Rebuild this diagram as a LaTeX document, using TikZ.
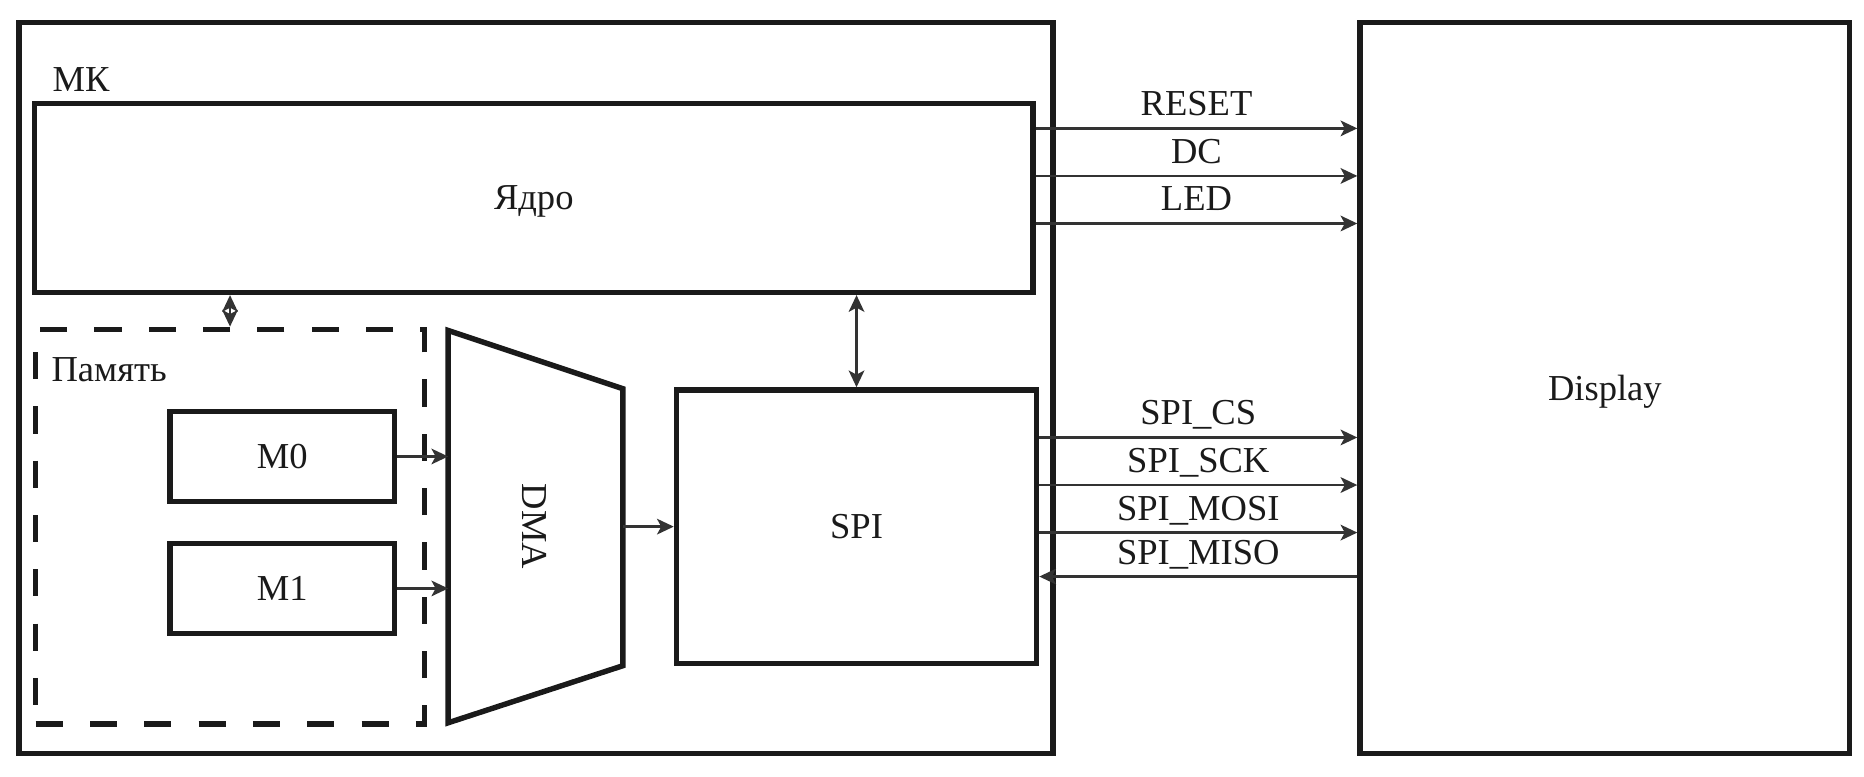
\documentclass[tikz,border=0pt]{standalone}
\usepackage{fontspec}
\setmainfont{Liberation Serif}
\usetikzlibrary{arrows.meta,positioning}
\definecolor{ink}{HTML}{1A1A1A}
\definecolor{wire}{HTML}{333333}

\begin{document}
\begin{tikzpicture}[x=0.02cm,y=0.02cm,>={Stealth[length=8pt,width=7.5pt,inset=2pt]},
  every node/.style={font=\fontsize{17.5}{20}\selectfont,text=ink},
  box/.style={draw=ink,line width=2.6pt,inner sep=0pt,text depth=0pt},
  membox/.style={draw=ink,line width=2.6pt,dash pattern=on 13pt off 13pt,inner sep=0pt},
  sig/.style={draw=wire,line width=1.1pt,->},
  siglab/.style={midway,anchor=base,yshift=6pt,inner sep=0pt}]
  \useasboundingbox (0,0) rectangle (1568,653);

  % blocks
  \node[box,minimum width=17.4cm,minimum height=12.3cm] (mk) at (451,326.5) {};
  \node[box,minimum width=8.24cm,minimum height=12.3cm] (disp) at (1350,326.5) {Display};
  \node[box,minimum width=16.8cm,minimum height=3.18cm] (core) at (449,486.5) {Ядро};
  \node[membox,minimum width=6.54cm,minimum height=6.64cm] (mem) at (193.5,210) {};
  \node[box,minimum width=3.78cm,minimum height=1.52cm] (m0) at (237.5,269) {M0};
  \node[box,minimum width=3.78cm,minimum height=1.52cm] (m1) at (237.5,158) {M1};
  \node[box,minimum width=6.06cm,minimum height=4.6cm] (spi) at (720.5,210) {SPI};
  \node[anchor=base west,inner sep=0pt] (mklab) at (44,576) {МК};
  \node[anchor=base west,inner sep=0pt] (memlab) at (43,332) {Память};

  % DMA
  \draw[ink,line width=2.6pt,line join=miter] (377,375) -- (524,326) -- (524,93) -- (377,45) -- cycle;
  \coordinate (dmaL) at (377,210);
  \coordinate (dmaR) at (524,210);
  \node[rotate=-90] (dma) at (450,210) {DMA};

  % internal links
  \draw[sig] (m0.east) -- (m0.east -| dmaL);
  \draw[sig] (m1.east) -- (m1.east -| dmaL);
  \draw[sig] (dmaR) -- (spi.west);
  \draw[sig,<->] (core.south -| mem.north) -- (mem.north);
  \draw[sig,<->] (spi.north |- core.south) -- (spi.north);

  % signals to display
  \foreach \y/\lab in {545/RESET,505/DC,465/LED}{
    \draw[sig] (core.east |- 0,\y) -- (disp.west |- 0,\y) node[siglab] {\lab};
  }
  \foreach \y/\lab in {285/SPI\_CS,245/SPI\_SCK,205/SPI\_MOSI}{
    \draw[sig] (spi.east |- 0,\y) -- (disp.west |- 0,\y) node[siglab] {\lab};
  }
  \draw[sig] (disp.west |- 0,168) -- (spi.east |- 0,168) node[siglab] {SPI\_MISO};
\end{tikzpicture}
\end{document}
